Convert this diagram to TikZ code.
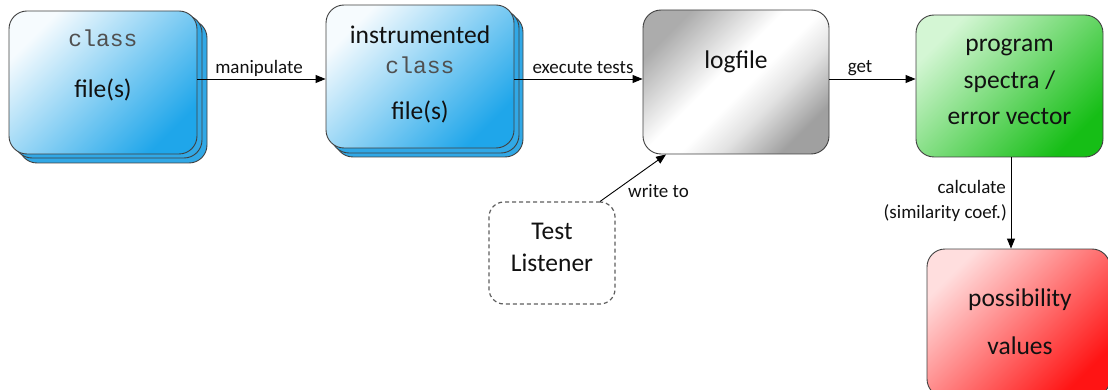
\documentclass[tikz,border=0pt]{standalone}
\usepackage{fontspec}
\setmainfont{Carlito}
\newfontfamily\courfont{Liberation Mono}
\usetikzlibrary{arrows.meta}
\definecolor{lineC}{HTML}{404040}
\definecolor{blueL}{HTML}{F6FBFE}
\definecolor{blueD}{HTML}{1FA6EA}
\definecolor{blueS}{HTML}{31A8E6}
\definecolor{greenL}{HTML}{D4F6D4}
\definecolor{greenD}{HTML}{16BE16}
\definecolor{redL}{HTML}{FFDEDE}
\definecolor{redD}{HTML}{FF1414}
\definecolor{greyL}{HTML}{ACACAC}
\definecolor{greyD}{HTML}{A0A0A0}
\definecolor{codeC}{HTML}{505050}
\definecolor{textC}{HTML}{111111}
\pgfdeclareverticalshading{logshade}{100bp}{color(0bp)=(greyD); color(25bp)=(greyD); color(38bp)=(greyD!30); color(47bp)=(white); color(55bp)=(white); color(66bp)=(greyL!55); color(75bp)=(greyL); color(100bp)=(greyL)}
\begin{document}
\begin{tikzpicture}[x=1pt,y=-1pt,
  box/.style={draw=lineC, line width=0.9pt, rounded corners=18pt, inner sep=0pt, rectangle},
  blueshade/.style={top color=blueL, bottom color=blueD, shading angle=45},
  stackbox/.style={box, fill=blueS, minimum width=188pt, minimum height=143pt},
  big/.style={font=\fontsize{25.5}{30}\selectfont, inner sep=0pt, text=textC},
  code/.style={font=\courfont\fontsize{23}{28}\selectfont, inner sep=0pt, text=codeC},
  lab/.style={font=\fontsize{19}{22}\selectfont, inner sep=0pt, text=textC},
  arr/.style={-{Triangle[length=10pt,width=8pt]}, line width=0.9pt, draw=black}]
\clip (0,0) rectangle (1108,390);
% box 1 (class files)
\node[stackbox] (b1s2) at (113,91.5) {};
\node[stackbox] (b1s1) at (108,86.5) {};
\node[box, blueshade, minimum width=188pt, minimum height=143pt] (b1) at (103,82.5) {};
\node[code] (b1t1) at (103,38) {class};
\node[big] (b1t2) at (103,90) {file(s)};
% box 2 (instrumented class files)
\node[stackbox] (b2s2) at (429,85.5) {};
\node[stackbox] (b2s1) at (425,81.5) {};
\node[box, blueshade, minimum width=188pt, minimum height=143pt] (b2) at (420,76.5) {};
\node[big] (b2t1) at (420,35) {instrumented};
\node[code] (b2t2) at (420,65) {class};
\node[big] (b2t3) at (420,112) {file(s)};
% logfile
\node[box, shade, shading=logshade, shading angle=45,
      minimum width=186pt, minimum height=144pt] (lf) at (736,82) {};
\node[big] (lft) at (736,62) {logfile};
% program spectra
\node[box, top color=greenL, bottom color=greenD, shading angle=45,
      minimum width=187pt, minimum height=142pt] (gr) at (1009.5,86) {};
\node[big] (grt1) at (1009.5,47) {program};
\node[big] (grt2) at (1009.5,82) {spectra /};
\node[big] (grt3) at (1009.5,117) {error vector};
% possibility values
\node[box, top color=redL, bottom color=redD, shading angle=45,
      minimum width=183pt, minimum height=148pt] (rd) at (1018.5,323) {};
\node[big] (rdt1) at (1020,300) {possibility};
\node[big] (rdt2) at (1020,346) {values};
% test listener
\node[draw=lineC!85, line width=1.2pt, dash pattern=on 4pt off 3pt, rounded corners=15pt,
      inner sep=0pt, minimum width=126pt, minimum height=102pt] (tl) at (552,253) {};
\node[big] (tlt1) at (552,231) {Test};
\node[big] (tlt2) at (552,263) {Listener};
% connectors
\coordinate (yline) at (0,79);
\draw[arr] (b1.east |- yline) -- (b2.west |- yline);
\draw[arr] (b2.east |- yline) -- (lf.west |- yline);
\draw[arr] (lf.east |- yline) -- (gr.west |- yline);
\draw[arr] (tl.47) -- (lf.226.6);
\coordinate (xcalc) at (1011,0);
\draw[arr] (gr.south -| xcalc) -- (rd.north -| xcalc);
% labels
\node[lab] (l1) at (259,68) {manipulate};
\node[lab] (l2) at (583,68) {execute tests};
\node[lab] (l3) at (860,68) {get};
\node[lab, anchor=west] (l4) at (628,191) {write to};
\node[lab, anchor=east] (l5) at (1006,187) {calculate};
\node[lab, anchor=east] (l6) at (1007,213) {(similarity coef.)};
\end{tikzpicture}
\end{document}
